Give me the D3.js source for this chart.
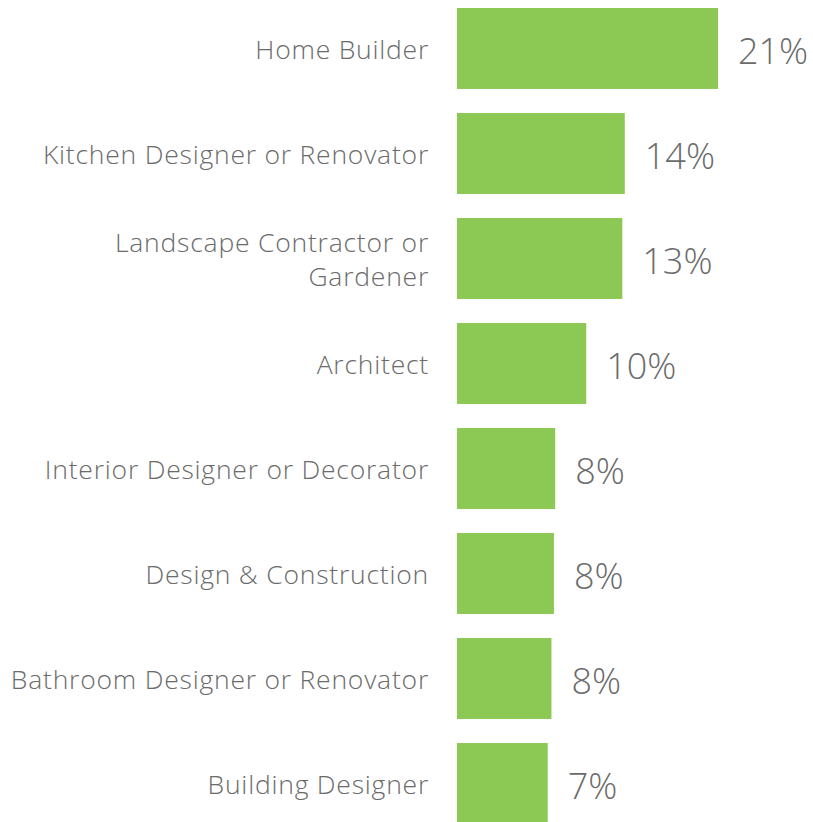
<!DOCTYPE html>
<html>
<head>
<meta charset="utf-8">
<script src="https://cdn.jsdelivr.net/npm/d3@7"></script>
<style>
  body { margin: 0; background: #fff; }
  text { font-family: "Open Sans", Lato, sans-serif; font-weight: 300; fill: #6b6b6b; }
</style>
</head>
<body>
<div id="chart"></div>
<script>
// categories (multi-line labels split on |)
var categories = [
  "Home Builder",
  "Kitchen Designer or Renovator",
  "Landscape Contractor or|Gardener",
  "Architect",
  "Interior Designer or Decorator",
  "Design & Construction",
  "Bathroom Designer or Renovator",
  "Building Designer"
];
var values = [21, 13.5, 13.3, 10.4, 7.9, 7.8, 7.6, 7.3];
var valueLabels = ["21%", "14%", "13%", "10%", "8%", "8%", "8%", "7%"];

var data = categories.map((c, i) => ({ cat: c, v: values[i], lab: valueLabels[i] }));

var svgWidth = 813, svgHeight = 822;

var svg = d3.select("#chart").append("svg")
  .attr("width", svgWidth)
  .attr("height", svgHeight);

var x = d3.scaleLinear().domain([0, 21]).range([457, 718]);
var y = d3.scaleBand().domain(categories).range([-4, 836])
  .paddingInner(0.229).paddingOuter(0.1145);

svg.selectAll("rect.bar")
  .data(data)
  .enter()
  .append("rect")
  .attr("class", "bar")
  .attr("x", x(0))
  .attr("y", d => y(d.cat))
  .attr("width", d => x(d.v) - x(0))
  .attr("height", y.bandwidth())
  .attr("fill", "#8cc954");

// value labels
svg.selectAll("text.val")
  .data(data)
  .enter()
  .append("text")
  .attr("class", "val")
  .attr("x", d => x(d.v) + 20)
  .attr("y", d => y(d.cat) + y.bandwidth() / 2)
  .attr("dy", "0.42em")
  .style("font-size", "36px")
  .text(d => d.lab);

// category labels
var labels = svg.selectAll("text.cat")
  .data(data)
  .enter()
  .append("text")
  .attr("class", "cat")
  .attr("text-anchor", "end")
  .style("font-size", "26.5px")
  .style("letter-spacing", "0.78px")
  .attr("transform", d => `translate(429, ${y(d.cat) + y.bandwidth() / 2})`);

labels.each(function(d) {
  var lines = d.cat.split("|");
  var t = d3.select(this);
  lines.forEach((ln, i) => {
    t.append("tspan")
      .attr("x", 0)
      .attr("y", (i - (lines.length - 1) / 2) * 34)
      .attr("dy", "0.38em")
      .text(ln);
  });
});
</script>
</body>
</html>
